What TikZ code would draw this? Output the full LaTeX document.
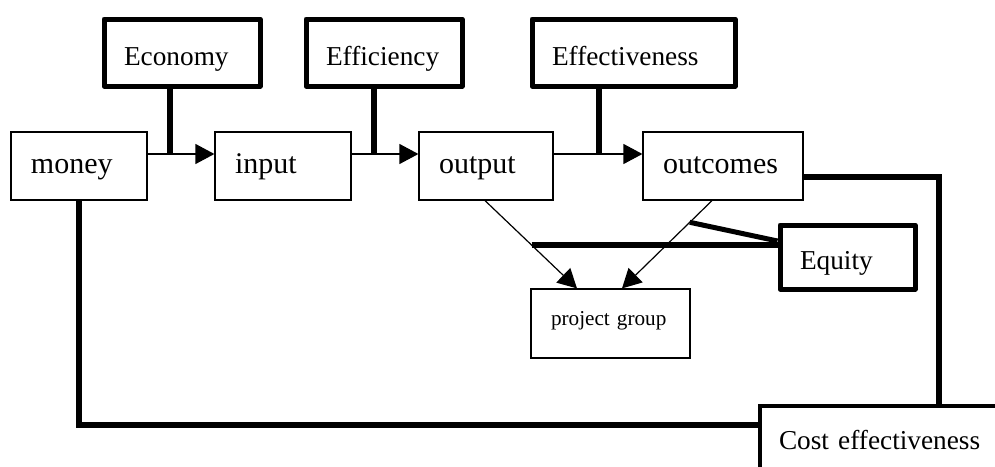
\documentclass[tikz,border=0pt]{standalone}
\usepackage{fontspec}
\setmainfont{Liberation Serif}
\usetikzlibrary{arrows.meta,calc}
\begin{document}
\begin{tikzpicture}[x=0.5pt,y=-0.5pt,
  base/.style={draw, rectangle, inner xsep=10pt, inner ysep=0pt, align=left, font=\fontsize{13.65pt}{16pt}\selectfont},
  flow/.style={base, line width=0.6pt, minimum height=34pt, text height=9pt, text depth=2pt, font=\fontsize{15pt}{18pt}\selectfont},
  crit/.style={base, line width=2.5pt, line join=round, minimum height=33.5pt, text height=14pt, text depth=1.5pt},
  conn/.style={line width=0.6pt, -{Triangle[length=9.5pt,width=10pt]}},
  stem/.style={line width=3.2pt},
  heavy/.style={line width=3pt}]
\useasboundingbox (0,0) rectangle (995,466);
\clip (0,0) rectangle (995,466);
% boxes
\node[crit, text width=58pt] (eco) at (182,52.5) {Economy};
\node[crit, text width=58pt] (eff) at (384,52.5) {Efficiency};
\node[crit, text width=81.5pt] (efv) at (633.5,52.5) {Effectiveness};
\node[flow, text width=48pt] (money) at (79,166) {money};
\node[flow, text width=48pt] (input) at (283,166) {input};
\node[flow, text width=47pt] (output) at (486,166) {output};
\node[flow, text width=60pt] (outc) at (723,166) {outcomes};
\node[flow, text width=59.5pt, minimum height=34.5pt, font=\fontsize{10.6pt}{12pt}\selectfont, text height=8pt, text depth=6.5pt] (pg) at (610.5,323.5) {project group};
\node[crit, text width=47.5pt, minimum height=32pt, text height=13.5pt, text depth=1.5pt] (eq) at (847.5,257) {Equity};
\node[base, line width=2pt, anchor=north west, text width=110pt, minimum height=33pt, text height=12pt, text depth=2pt, inner xsep=9.5pt] (cost) at (758,404) {Cost effectiveness};
% main flow arrows
\coordinate (a1) at ([yshift=6pt]money.east);
\coordinate (a2) at ([yshift=6pt]input.east);
\coordinate (a3) at ([yshift=6pt]output.east);
\draw[conn] (a1) -- ([yshift=6pt]input.west);
\draw[conn] (a2) -- ([yshift=6pt]output.west);
\draw[conn] (a3) -- ([yshift=6pt]outc.west);
% stems
\coordinate (s1) at ([xshift=-6pt]eco.south);
\coordinate (s2) at ([xshift=-5pt]eff.south);
\coordinate (s3) at ([xshift=-17.25pt]efv.south);
\draw[stem] (s1) -- (s1 |- a1);
\draw[stem] (s2) -- (s2 |- a2);
\draw[stem] (s3) -- (s3 |- a3);
% to project group
\coordinate (pgl) at ([xshift=-16.75pt]pg.north);
\coordinate (pgr) at ([xshift=5.75pt]pg.north);
\coordinate (os) at ([xshift=-0.5pt]output.south);
\coordinate (cs) at ([xshift=-5.5pt]outc.south);
\draw[conn] (os) -- (pgl);
\draw[conn] (cs) -- (pgr);
% equity
\coordinate (h1) at ($(os)!0.506!(pgl)$);
\coordinate (d1) at ($(cs)!0.247!(pgr)$);
\draw[heavy] (h1) -- (h1 -| eq.west);
\draw[line width=2.5pt] (d1) -- ([yshift=8pt]eq.west);
% cost effectiveness
\draw[line width=2.6pt] ([yshift=-5.5pt]outc.east) -| ([xshift=90.5pt]cost.north west);
\draw[line width=3.3pt] (money.south) |- ([yshift=-10.5pt]cost.north west);
\end{tikzpicture}
\end{document}
